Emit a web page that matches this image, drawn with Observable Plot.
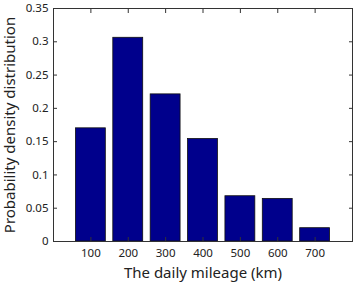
<!DOCTYPE html>
<html>
<head>
<meta charset="utf-8">
<script src="https://cdn.jsdelivr.net/npm/d3@7"></script>
<script src="https://cdn.jsdelivr.net/npm/@observablehq/plot@0.6"></script>
<style>
  html, body { margin: 0; padding: 0; background: #fff; }
  #chart svg { display: block; }
</style>
</head>
<body>
<div id="chart"></div>
<script>
const mileage = [100, 200, 300, 400, 500, 600, 700];
const density = [0.170, 0.306, 0.221, 0.154, 0.068, 0.064, 0.020];
const yTicks = [0, 0.05, 0.1, 0.15, 0.2, 0.25, 0.3, 0.35];
const xLabel = "The daily mileage (km)";
const yLabel = "Probability density distribution";

const barHalfWidth = 40;
const data = mileage.map((m, i) => ({m, v: density[i]}));

const font = "'Noto Sans', 'Open Sans', sans-serif";

const chart = Plot.plot({
  width: 356,
  height: 284,
  marginLeft: 53,
  marginRight: 4,
  marginTop: 8,
  marginBottom: 43,
  style: {fontFamily: font, fontSize: "11px", color: "#222", background: "#fff"},
  x: {domain: [0, 800], label: null},
  y: {domain: [0, 0.35], label: null},
  marks: [
    Plot.rectY(data, {
      x1: d => d.m - barHalfWidth,
      x2: d => d.m + barHalfWidth,
      y: "v",
      fill: "#00008c",
      stroke: "#111",
      strokeWidth: 0.8
    }),
    Plot.frame({stroke: "#333", strokeWidth: 1}),
    Plot.axisX(mileage, {anchor: "bottom", tickSize: -4, tickPadding: 11, tickFormat: d => d, stroke: "#333", fontSize: 11.5}),
    Plot.axisX(mileage, {anchor: "top", tickSize: -4, text: null, stroke: "#333"}),
    Plot.axisY(yTicks, {anchor: "left", tickSize: -4, tickPadding: 9, tickFormat: d => String(d), stroke: "#333", fontSize: 11.5}),
    Plot.axisY(yTicks, {anchor: "right", tickSize: -4, text: null, stroke: "#333"}),
    Plot.text([xLabel], {frameAnchor: "bottom", dy: 36, fontSize: 15, fill: "#222"}),
    Plot.text([yLabel], {frameAnchor: "left", textAnchor: "middle", dx: -43, rotate: -90, fontSize: 15, fill: "#222"})
  ]
});
document.getElementById("chart").appendChild(chart);
</script>
</body>
</html>
